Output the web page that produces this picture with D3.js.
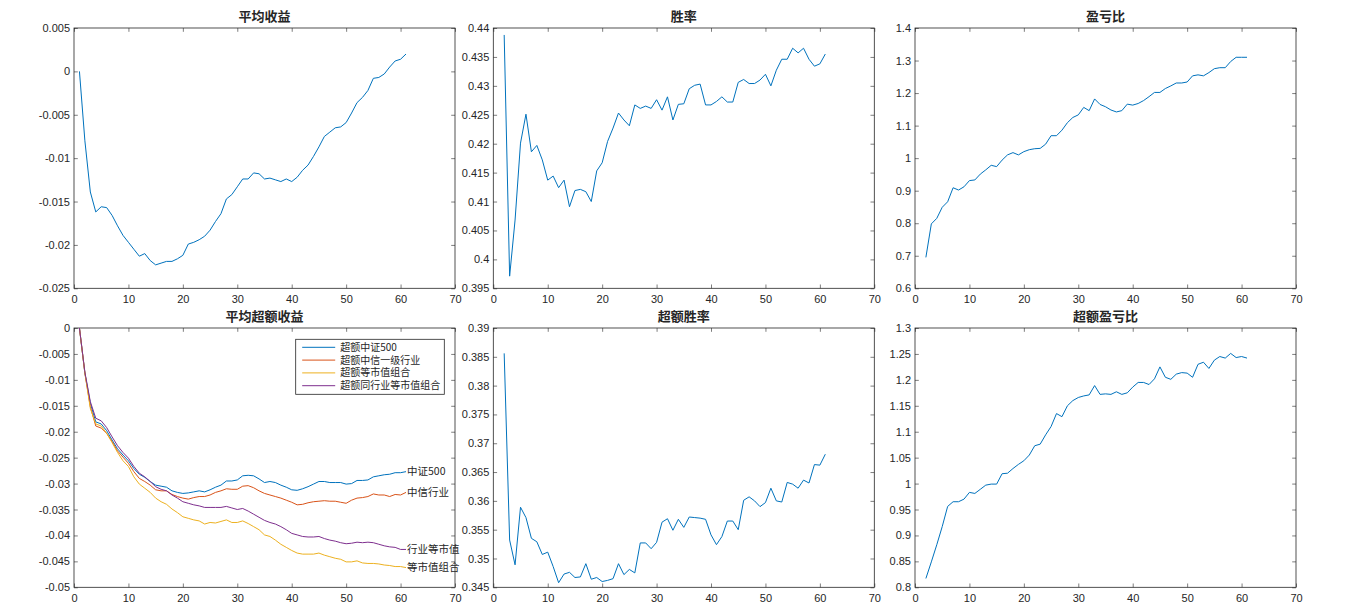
<!DOCTYPE html>
<html>
<head>
<meta charset="utf-8">
<script src="https://cdn.jsdelivr.net/npm/d3@7"></script>
<style>
  html, body { margin: 0; padding: 0; background: #ffffff; }
  svg { display: block; }
  .tick text { font-family: "Liberation Sans", Arial, sans-serif; font-size: 11px; fill: #262626; }
  .tick line { stroke: #262626; stroke-width: 0.6; }
  .title { font-family: "Noto Sans CJK SC", sans-serif; font-weight: 700; font-size: 13px; fill: #262626; }
  .cjk { font-family: "Noto Sans CJK SC", sans-serif; fill: #262626; }
</style>
</head>
<body>
<svg id="fig" width="1371" height="605"></svg>
<script>
// Holding period (days) for each series
const stepsFrom1 = d3.range(1, 62);
const stepsFrom2 = d3.range(2, 62);

// 平均收益
const avgReturn = [
  0, -0.008, -0.0139, -0.0162, -0.0156, -0.0157, -0.0166, -0.0178, -0.0189, -0.0197,
  -0.0205, -0.0213, -0.021, -0.0218, -0.0223, -0.0221, -0.0219, -0.0219, -0.0216, -0.0212,
  -0.0199, -0.0197, -0.0194, -0.019, -0.0183, -0.0173, -0.0164, -0.0147, -0.0142, -0.0133,
  -0.0124, -0.0124, -0.0117, -0.0118, -0.0124, -0.0123, -0.0125, -0.0127, -0.0124, -0.0127,
  -0.0122, -0.0114, -0.0108, -0.0098, -0.0087, -0.0075, -0.007, -0.0065, -0.0064, -0.0059,
  -0.0048, -0.0036, -0.003, -0.0022, -0.0008, -0.0007, -0.0003, 0.0005, 0.0012, 0.0014,
  0.002
];

// 胜率
const winRate = [
  0.4388, 0.3971, 0.4068, 0.4201, 0.4251, 0.4186, 0.4197, 0.4172, 0.4137, 0.4144,
  0.4124, 0.4137, 0.4091, 0.4119, 0.4121, 0.4117, 0.41, 0.4153, 0.4167, 0.4204,
  0.4227, 0.4253, 0.4241, 0.4231, 0.4267, 0.4261, 0.4265, 0.4261, 0.4276, 0.4258,
  0.4281, 0.4241, 0.4268, 0.4269, 0.4295, 0.4301, 0.4303, 0.4267, 0.4267, 0.4273,
  0.4281, 0.4272, 0.4272, 0.4306, 0.4311, 0.4304, 0.4304, 0.431, 0.432, 0.43,
  0.4327, 0.4346, 0.4346, 0.4365, 0.4357, 0.4365, 0.4346, 0.4334, 0.4338, 0.4355
];

// 盈亏比
const plRatio = [
  0.695, 0.798, 0.815, 0.849, 0.866, 0.909, 0.902, 0.912, 0.931, 0.933,
  0.951, 0.964, 0.978, 0.974, 0.994, 1.010, 1.017, 1.010, 1.020, 1.026,
  1.029, 1.030, 1.043, 1.069, 1.069, 1.086, 1.109, 1.125, 1.133, 1.156,
  1.146, 1.182, 1.165, 1.158, 1.148, 1.142, 1.146, 1.166, 1.163, 1.168,
  1.177, 1.189, 1.202, 1.202, 1.214, 1.222, 1.231, 1.231, 1.234, 1.253,
  1.256, 1.253, 1.263, 1.275, 1.278, 1.278, 1.297, 1.310, 1.310, 1.310
];

// 平均超额收益: four benchmarks
const excess500 = [
  0, -0.0087, -0.0145, -0.0181, -0.0185, -0.0198, -0.0216, -0.0233, -0.0245, -0.0256,
  -0.0271, -0.0282, -0.0288, -0.0296, -0.0303, -0.0305, -0.0307, -0.0314, -0.0317, -0.0319,
  -0.0318, -0.0316, -0.0314, -0.0316, -0.0312, -0.0307, -0.0303, -0.0295, -0.0295, -0.0293,
  -0.0285, -0.0284, -0.0285, -0.0291, -0.0298, -0.0296, -0.0298, -0.0303, -0.0307, -0.0312,
  -0.0313, -0.031, -0.0306, -0.0301, -0.0296, -0.0296, -0.0298, -0.0298, -0.0298, -0.0301,
  -0.03, -0.0294, -0.0294, -0.0293, -0.0287, -0.0285, -0.0283, -0.0282, -0.0279, -0.0279,
  -0.0277
];
const excessCiti = [
  0, -0.0087, -0.0152, -0.0189, -0.0193, -0.0203, -0.0219, -0.0237, -0.0249, -0.0261,
  -0.0277, -0.029, -0.0296, -0.0303, -0.0312, -0.0314, -0.0314, -0.0321, -0.0325, -0.0328,
  -0.033, -0.0327, -0.0325, -0.0325, -0.0322, -0.0317, -0.0314, -0.031, -0.0311, -0.0311,
  -0.0305, -0.0304, -0.0308, -0.0314, -0.0319, -0.0322, -0.0325, -0.0328, -0.0332, -0.0336,
  -0.0341, -0.034, -0.0337, -0.0335, -0.0334, -0.0333, -0.0334, -0.0334, -0.0336, -0.0338,
  -0.0332, -0.0328, -0.0327, -0.0325, -0.032, -0.0322, -0.0322, -0.0325, -0.0321, -0.0322,
  -0.0317
];
const excessEqualCap = [
  0, -0.0087, -0.0155, -0.0185, -0.0189, -0.0203, -0.0221, -0.024, -0.0256, -0.0267,
  -0.0287, -0.0301, -0.0309, -0.0317, -0.0328, -0.0335, -0.034, -0.0349, -0.0356, -0.0364,
  -0.0367, -0.037, -0.0372, -0.0378, -0.0375, -0.0376, -0.0373, -0.037, -0.0375, -0.0375,
  -0.0372, -0.0377, -0.0383, -0.0389, -0.0399, -0.0402, -0.0409, -0.0417, -0.0423, -0.0429,
  -0.0434, -0.0436, -0.0436, -0.0436, -0.0434, -0.0438, -0.0441, -0.0444, -0.0446, -0.0451,
  -0.0451, -0.0449, -0.0453, -0.0454, -0.0454, -0.0455, -0.0457, -0.0458, -0.046, -0.046,
  -0.0462
];
const excessIndEqualCap = [
  0, -0.0085, -0.0142, -0.0174, -0.0179, -0.0192, -0.021, -0.0227, -0.024, -0.0251,
  -0.0267, -0.028, -0.0287, -0.0296, -0.0306, -0.0311, -0.0314, -0.0322, -0.0328, -0.0335,
  -0.0338, -0.0341, -0.0343, -0.0346, -0.0346, -0.0346, -0.0346, -0.0344, -0.0347, -0.035,
  -0.0348, -0.0353, -0.0359, -0.0365, -0.0371, -0.0375, -0.0378, -0.0383, -0.0389, -0.0396,
  -0.0399, -0.0402, -0.0403, -0.0403, -0.0402, -0.0406, -0.0409, -0.0411, -0.0414, -0.0416,
  -0.0415, -0.0413, -0.0414, -0.0413, -0.0414, -0.0417, -0.042, -0.0422, -0.0423, -0.0427,
  -0.0427
];

// 超额胜率
const exWinRate = [
  0.3856, 0.3532, 0.3489, 0.3589, 0.3571, 0.3535, 0.3529, 0.3507, 0.3511, 0.3486,
  0.3458, 0.3473, 0.3476, 0.3467, 0.3468, 0.3491, 0.3464, 0.3467, 0.346, 0.3462,
  0.3465, 0.3491, 0.3472, 0.3481, 0.3475, 0.3527, 0.3527, 0.3517, 0.3528, 0.3563,
  0.3569, 0.3549, 0.3568, 0.3554, 0.3572, 0.3571, 0.357, 0.3568, 0.3541, 0.3524,
  0.3538, 0.3565, 0.3565, 0.355, 0.3601, 0.3607, 0.36, 0.359, 0.3597, 0.3622,
  0.36, 0.3598, 0.3632, 0.3629, 0.3622, 0.3636, 0.3631, 0.3663, 0.3662, 0.3681
];

// 超额盈亏比
const exPlRatio = [
  0.817, 0.849, 0.882, 0.917, 0.956, 0.965, 0.965, 0.970, 0.983, 0.981,
  0.989, 0.997, 0.999, 0.999, 1.019, 1.020, 1.029, 1.037, 1.044, 1.055,
  1.073, 1.076, 1.094, 1.110, 1.135, 1.129, 1.150, 1.160, 1.166, 1.169,
  1.171, 1.189, 1.172, 1.173, 1.172, 1.177, 1.172, 1.175, 1.186, 1.195,
  1.195, 1.191, 1.202, 1.225, 1.205, 1.201, 1.211, 1.214, 1.213, 1.205,
  1.230, 1.234, 1.222, 1.238, 1.245, 1.242, 1.251, 1.243, 1.245, 1.242
];

// Axis ticks and labels
const xTicks = [0, 10, 20, 30, 40, 50, 60, 70];
const yTicksAvg = [-0.025, -0.02, -0.015, -0.01, -0.005, 0, 0.005];
const yLabelsAvg = ["-0.025", "-0.02", "-0.015", "-0.01", "-0.005", "0", "0.005"];
const yTicksWin = [0.395, 0.4, 0.405, 0.41, 0.415, 0.42, 0.425, 0.43, 0.435, 0.44];
const yLabelsWin = ["0.395", "0.4", "0.405", "0.41", "0.415", "0.42", "0.425", "0.43", "0.435", "0.44"];
const yTicksPl = [0.6, 0.7, 0.8, 0.9, 1, 1.1, 1.2, 1.3, 1.4];
const yLabelsPl = ["0.6", "0.7", "0.8", "0.9", "1", "1.1", "1.2", "1.3", "1.4"];
const yTicksEx = [-0.05, -0.045, -0.04, -0.035, -0.03, -0.025, -0.02, -0.015, -0.01, -0.005, 0];
const yLabelsEx = ["-0.05", "-0.045", "-0.04", "-0.035", "-0.03", "-0.025", "-0.02", "-0.015", "-0.01", "-0.005", "0"];
const yTicksExWin = [0.345, 0.35, 0.355, 0.36, 0.365, 0.37, 0.375, 0.38, 0.385, 0.39];
const yLabelsExWin = ["0.345", "0.35", "0.355", "0.36", "0.365", "0.37", "0.375", "0.38", "0.385", "0.39"];
const yTicksExPl = [0.8, 0.85, 0.9, 0.95, 1, 1.05, 1.1, 1.15, 1.2, 1.25, 1.3];
const yLabelsExPl = ["0.8", "0.85", "0.9", "0.95", "1", "1.05", "1.1", "1.15", "1.2", "1.25", "1.3"];

// Series names
const legendNames = ["超额中证500", "超额中信一级行业", "超额等市值组合", "超额同行业等市值组合"];
const endLabels = ["中证500", "中信行业", "等市值组合", "行业等市值"];
const colors = ["#0072BD", "#D95319", "#EDB120", "#7E2F8E"];

const svg = d3.select("#fig");
const axisColor = "#262626";
const tickLen = 3.8;

const colLeft = [74, 493.3, 915];
const plotW = 381;
const rowTop = [28, 328];
const plotH = [260.3, 259.3];

function panel(col, row, title, yDomain, yTicks, yLabels) {
  const x0 = colLeft[col], y0 = rowTop[row], h = plotH[row];
  const g = svg.append("g").attr("transform", `translate(${x0},${y0})`);
  const x = d3.scaleLinear().domain([0, 70]).range([0, plotW]);
  const y = d3.scaleLinear().domain(yDomain).range([h, 0]);

  g.append("rect").attr("width", plotW).attr("height", h).attr("fill", "#fff");

  const fmt = (arr, labels) => (d) => labels[arr.indexOf(d)];

  const bottom = g.append("g").attr("transform", `translate(0,${h})`)
    .call(d3.axisBottom(x).tickValues(xTicks).tickFormat(fmt(xTicks, xTicks.map(String)))
      .tickSizeInner(-tickLen).tickSizeOuter(0).tickPadding(7));
  const left = g.append("g")
    .call(d3.axisLeft(y).tickValues(yTicks).tickFormat(fmt(yTicks, yLabels))
      .tickSizeInner(-tickLen).tickSizeOuter(0).tickPadding(4));
  const top = g.append("g")
    .call(d3.axisTop(x).tickValues(xTicks).tickFormat("").tickSizeInner(-tickLen).tickSizeOuter(0));
  const right = g.append("g").attr("transform", `translate(${plotW},0)`)
    .call(d3.axisRight(y).tickValues(yTicks).tickFormat("").tickSizeInner(-tickLen).tickSizeOuter(0));
  [bottom, left, top, right].forEach(a => a.select(".domain").remove());

  g.append("rect").attr("width", plotW).attr("height", h)
    .attr("fill", "none").attr("stroke", axisColor).attr("stroke-width", 0.8);

  g.append("text").attr("class", "title")
    .attr("x", plotW / 2).attr("y", -7).attr("text-anchor", "middle").text(title);

  return { g, x, y };
}

function drawLine(p, steps, values, color) {
  const line = d3.line().x((d, i) => p.x(steps[i])).y(d => p.y(d));
  p.g.append("path").datum(values)
    .attr("d", line).attr("fill", "none")
    .attr("stroke", color).attr("stroke-width", 1)
    .attr("stroke-linejoin", "round");
}

// Top row
const p1 = panel(0, 0, "平均收益", [-0.025, 0.005], yTicksAvg, yLabelsAvg);
drawLine(p1, stepsFrom1, avgReturn, colors[0]);

const p2 = panel(1, 0, "胜率", [0.395, 0.44], yTicksWin, yLabelsWin);
drawLine(p2, stepsFrom2, winRate, colors[0]);

const p3 = panel(2, 0, "盈亏比", [0.6, 1.4], yTicksPl, yLabelsPl);
drawLine(p3, stepsFrom2, plRatio, colors[0]);

// Bottom row
const p4 = panel(0, 1, "平均超额收益", [-0.05, 0], yTicksEx, yLabelsEx);
const excessSeries = [excess500, excessCiti, excessEqualCap, excessIndEqualCap];
excessSeries.forEach((s, i) => drawLine(p4, stepsFrom1, s, colors[i]));

// Name at the end of each excess-return curve
excessSeries.forEach((s, i) => {
  const last = s.length - 1;
  p4.g.append("text").attr("class", "cjk")
    .attr("x", p4.x(stepsFrom1[last]) + 1)
    .attr("y", p4.y(s[last]))
    .attr("dy", "0.36em")
    .style("font-size", "10.5px")
    .text(endLabels[i]);
});

// Legend
const lg = p4.g.append("g").attr("transform", "translate(221.7,11.3)");
lg.append("rect").attr("width", 148.6).attr("height", 55)
  .attr("fill", "#fff").attr("stroke", axisColor).attr("stroke-width", 0.8);
legendNames.forEach((name, i) => {
  const cy = 8 + i * 12.8;
  lg.append("line").attr("x1", 6.5).attr("x2", 39.5).attr("y1", cy).attr("y2", cy)
    .attr("stroke", colors[i]).attr("stroke-width", 1);
  lg.append("text").attr("class", "cjk")
    .attr("x", 44.5).attr("y", cy).attr("dy", "0.36em")
    .style("font-size", "10px").text(name);
});

const p5 = panel(1, 1, "超额胜率", [0.345, 0.39], yTicksExWin, yLabelsExWin);
drawLine(p5, stepsFrom2, exWinRate, colors[0]);

const p6 = panel(2, 1, "超额盈亏比", [0.8, 1.3], yTicksExPl, yLabelsExPl);
drawLine(p6, stepsFrom2, exPlRatio, colors[0]);
</script>
</body>
</html>
